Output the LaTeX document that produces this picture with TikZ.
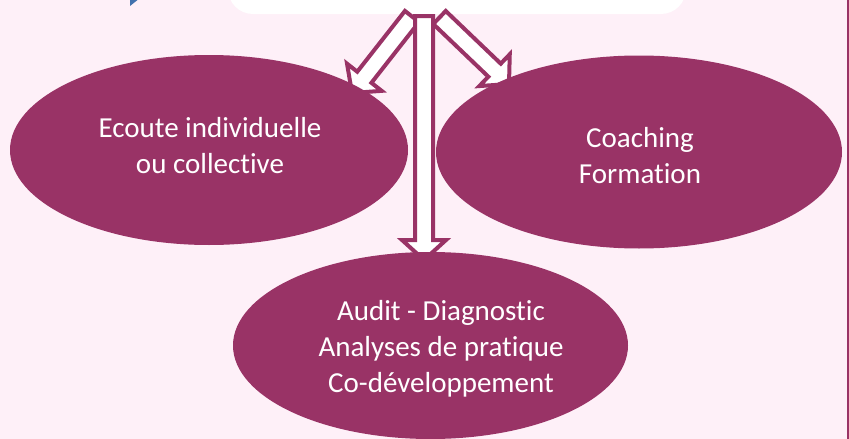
\documentclass[tikz,border=0pt]{standalone}
\usepackage{fontspec}
\setmainfont{Carlito}[Ligatures=CommonOff]
\usetikzlibrary{calc,shapes.geometric}
\definecolor{plum}{HTML}{993366}
\definecolor{bgpink}{HTML}{FEF0F8}
\definecolor{tipblue}{HTML}{4272AE}
\tikzset{
  oval/.style={ellipse, fill=plum, draw=none, inner sep=0pt},
  lbl/.style={text=white, align=center, font=\fontsize{29}{36}\selectfont, inner sep=0pt},
  blockarrow/.style={draw=plum, line width=4pt, fill=white, line join=miter},
  topbox/.style={fill=white, rounded corners=25pt, inner sep=0pt},
}
\newcommand\blockarr[2]{%
  \coordinate (hb) at ($(#2)!20pt!(#1)$);
  \draw[blockarrow] ($(#1)!9pt!90:(#2)$) -- ($(hb)!9pt!90:(#2)$)
    -- ($(hb)!22pt!90:(#2)$) -- (#2) -- ($(hb)!22pt!-90:(#2)$)
    -- ($(hb)!9pt!-90:(#2)$) -- ($(#1)!9pt!-90:(#2)$) -- cycle;}
\begin{document}
\begin{tikzpicture}[x=1pt,y=-1pt]
\useasboundingbox (0,0) rectangle (849,439);
\fill[bgpink] (0,0) rectangle (849,439);
% top white box (cropped)
\node[topbox, minimum width=458pt, minimum height=64pt] (src) at (457,-18) {};
% small blue tip at top left
\fill[tipblue] (130,0) -- (137.5,0) -- (130,6) -- cycle;
% right border line
\fill[plum] (847,0) rectangle (849,439);
% arrow ends
\coordinate (tl) at (412,16.5);
\coordinate (tr) at (439.5,17.5);
\coordinate (td) at (424,16);
\coordinate (pl) at (352,93);
\coordinate (pr) at (509,84);
\coordinate (pd) at (424,260);
\blockarr{tl}{pl}
\blockarr{tr}{pr}
\blockarr{td}{pd}
% ellipses
\node[oval, minimum width=398pt, minimum height=190pt] (left) at (209,150) {};
\node[oval, minimum width=406pt, minimum height=193pt] (right) at (639,152) {};
\node[oval, minimum width=395pt, minimum height=187pt] (bottom) at (430.5,345.5) {};
% labels
\node[lbl] (tleft) at (210,146) {Ecoute individuelle\\ou collective};
\node[lbl] (tright) at (640,156) {Coaching\\Formation};
\node[lbl] (tbottom) at (441,349) {Audit - Diagnostic\\Analyses de pratique\\Co-développement};
\end{tikzpicture}
\end{document}
